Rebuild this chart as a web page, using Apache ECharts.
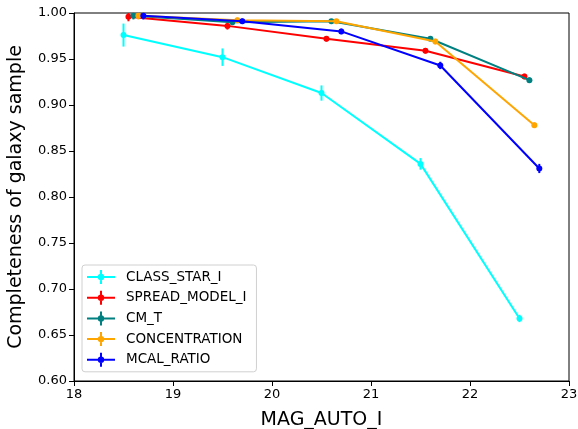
<!DOCTYPE html>
<html>
<head>
<meta charset="utf-8">
<script src="https://cdn.jsdelivr.net/npm/echarts@6/dist/echarts.min.js"></script>
<style>
html,body{margin:0;padding:0;background:#fff;}
#chart{width:578px;height:429px;}
</style>
</head>
<body>
<div id="chart"></div>
<script>
// ---- data ----
const seriesNames = ['CLASS_STAR_I', 'SPREAD_MODEL_I', 'CM_T', 'CONCENTRATION', 'MCAL_RATIO'];
const seriesColors = ['#00FFFF', '#FF0000', '#008080', '#FFA500', '#0000FF'];

const classStarX   = [18.50, 19.50, 20.50, 21.50, 22.50];
const classStarY   = [0.976, 0.952, 0.913, 0.836, 0.668];
const classStarErr = [0.0125, 0.0095, 0.0083, 0.0063, 0.004];

const spreadX   = [18.55, 19.55, 20.55, 21.55, 22.55];
const spreadY   = [0.996, 0.986, 0.972, 0.959, 0.931];
const spreadErr = [0.005, 0.004, 0.003, 0.003, 0.003];

const cmtX   = [18.60, 19.60, 20.60, 21.60, 22.60];
const cmtY   = [0.997, 0.990, 0.991, 0.972, 0.927];
const cmtErr = [0.004, 0.003, 0.002, 0.002, 0.003];

const concX   = [18.65, 19.65, 20.65, 21.65, 22.65];
const concY   = [0.997, 0.992, 0.991, 0.969, 0.878];
const concErr = [0.004, 0.003, 0.002, 0.003, 0.003];

const mcalX   = [18.70, 19.70, 20.70, 21.70, 22.70];
const mcalY   = [0.997, 0.991, 0.980, 0.943, 0.831];
const mcalErr = [0.004, 0.003, 0.003, 0.004, 0.005];

const xTicks = [18, 19, 20, 21, 22, 23];
const yTicks = [0.60, 0.65, 0.70, 0.75, 0.80, 0.85, 0.90, 0.95, 1.00];

const allX = [classStarX, spreadX, cmtX, concX, mcalX];
const allY = [classStarY, spreadY, cmtY, concY, mcalY];
const allErr = [classStarErr, spreadErr, cmtErr, concErr, mcalErr];

// ---- chart ----
const FONT = 'DejaVu Sans';
const chart = echarts.init(document.getElementById('chart'), null, {renderer: 'canvas'});

const legendIcon = 'path://M0,6 H28 V8 H0 Z M13,0 H15 V14 H13 Z M10.8,7 A3.2,3.2 0 1,1 17.2,7 A3.2,3.2 0 1,1 10.8,7 Z';

const series = [];
seriesNames.forEach((name, i) => {
  const errData = allX[i].map((x, k) => [x, allY[i][k], allErr[i][k]]);
  series.push({
    name: name,
    type: 'custom',
    clip: true,
    z: 2 + i,
    encode: {x: 0, y: 1},
    data: errData,
    renderItem: function (params, api) {
      const x = api.value(0), y = api.value(1), e = api.value(2);
      const p1 = api.coord([x, y + e]);
      const p2 = api.coord([x, y - e]);
      return {
        type: 'line',
        shape: {x1: p1[0], y1: p1[1], x2: p2[0], y2: p2[1]},
        style: {stroke: seriesColors[i], lineWidth: 2}
      };
    },
    itemStyle: {color: seriesColors[i]},
    silent: true
  });
  series.push({
    name: name,
    type: 'line',
    z: 2 + i,
    data: allX[i].map((x, k) => [x, allY[i][k]]),
    symbol: 'circle',
    symbolSize: 6,
    showSymbol: true,
    lineStyle: {color: seriesColors[i], width: 2},
    itemStyle: {color: seriesColors[i]},
    emphasis: {disabled: true}
  });
});

const option = {
  animation: false,
  backgroundColor: '#ffffff',
  grid: {
    left: 74, right: 9, top: 13, bottom: 48,
    containLabel: false,
    outerBoundsMode: 'none',
    show: true, borderColor: '#000', borderWidth: 1, backgroundColor: 'transparent'
  },
  legend: {
    orient: 'vertical',
    left: 82, top: 265,
    data: seriesNames.map((n, i) => ({name: n, icon: legendIcon, itemStyle: {color: seriesColors[i]}})),
    itemWidth: 28, itemHeight: 14, itemGap: 6.7,
    padding: [5, 10, 5, 5],
    backgroundColor: 'rgba(255,255,255,0.8)',
    borderColor: '#d0d0d0', borderWidth: 1, borderRadius: 3,
    textStyle: {fontFamily: FONT, fontSize: 13.5, color: '#000', padding: [0, 0, 0, 6]},
    selectedMode: false
  },
  xAxis: {
    type: 'value',
    min: xTicks[0], max: xTicks[xTicks.length - 1], interval: 1,
    name: 'MAG_AUTO_I',
    nameLocation: 'middle', nameGap: 30,
    nameTextStyle: {fontFamily: FONT, fontSize: 19, color: '#000'},
    axisLine: {show: true, lineStyle: {color: '#000', width: 1}},
    axisTick: {show: true, inside: false, length: 5, lineStyle: {color: '#000'}},
    axisLabel: {fontFamily: FONT, fontSize: 13, color: '#000', margin: 7, formatter: v => String(v)},
    splitLine: {show: false}
  },
  yAxis: {
    type: 'value',
    min: yTicks[0], max: yTicks[yTicks.length - 1], interval: 0.05,
    name: 'Completeness of galaxy sample',
    nameLocation: 'middle', nameGap: 48,
    nameTextStyle: {fontFamily: FONT, fontSize: 19, color: '#000'},
    axisLine: {show: true, lineStyle: {color: '#000', width: 1}},
    axisTick: {show: true, inside: false, length: 5, lineStyle: {color: '#000'}},
    axisLabel: {fontFamily: FONT, fontSize: 13, color: '#000', margin: 7, formatter: v => v.toFixed(2)},
    splitLine: {show: false}
  },
  series: series
};
chart.setOption(option);
</script>
</body>
</html>
